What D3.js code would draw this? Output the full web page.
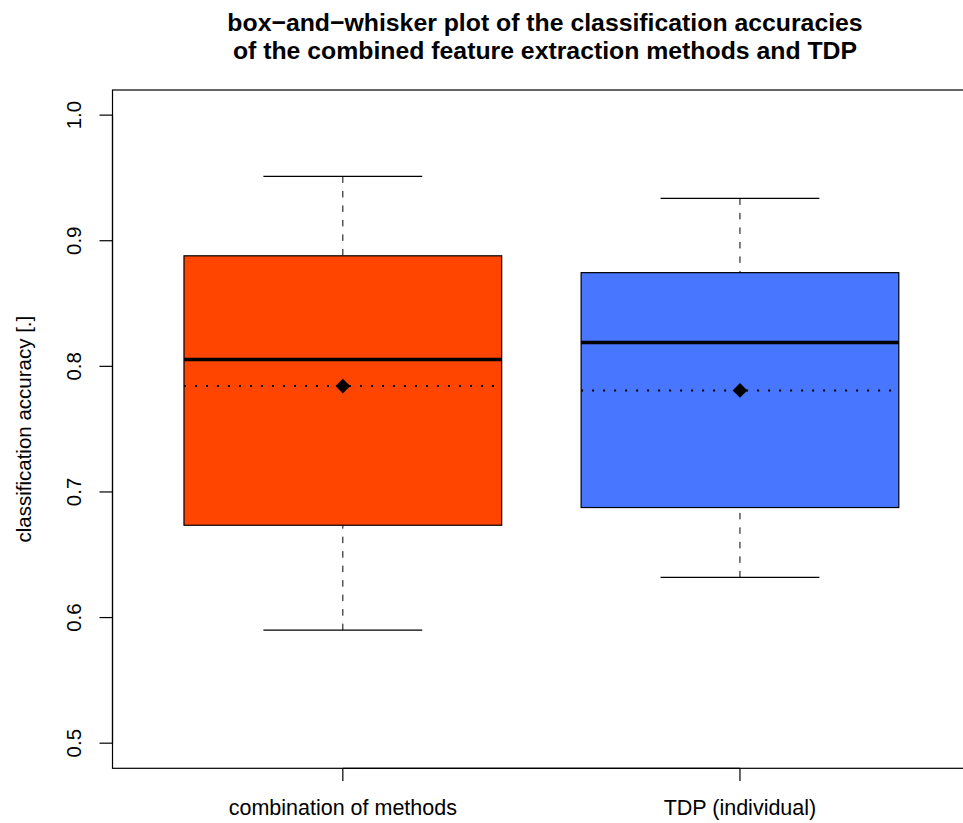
<!DOCTYPE html>
<html>
<head>
<meta charset="utf-8">
<script src="https://cdn.jsdelivr.net/npm/d3@7"></script>
<style>
  body { margin: 0; background: #fff; }
  text { font-family: "Liberation Sans", Arial, Helvetica, sans-serif; fill: #000; }
</style>
</head>
<body>
<div id="chart"></div>
<script>
// values
const groups = ["combination of methods", "TDP (individual)"];
const whiskerLow = [0.590, 0.632];
const q1 = [0.6735, 0.6876];
const medians = [0.8055, 0.819];
const q3 = [0.888, 0.8746];
const whiskerHigh = [0.9512, 0.9337];
const means = [0.7843, 0.7808];
const fills = ["#FF4500", "#4876FF"];
const yTicks = [0.5, 0.6, 0.7, 0.8, 0.9, 1.0];

const width = 963, height = 823;

const svg = d3.select("#chart")
    .append("svg")
    .attr("width", width)
    .attr("height", height);

// R style: xlim 0.5..2.5 extended 4%, ylim 0.5..1.0 extended 4%
const x = d3.scaleLinear().domain([0.42, 2.58]).range([112.5, 970.3]);
const y = d3.scaleLinear().domain([0.48, 1.02]).range([768.3, 90]);
const boxW = 0.8;

const data = groups.map((g, i) => ({
    name: g, pos: i + 1,
    lo: whiskerLow[i], q1: q1[i], med: medians[i], q3: q3[i], hi: whiskerHigh[i],
    mean: means[i], fill: fills[i]
}));

// plot frame (right edge falls outside the picture)
svg.append("rect")
    .attr("x", x(0.42))
    .attr("y", y(1.02))
    .attr("width", x(2.58) - x(0.42))
    .attr("height", y(0.48) - y(1.02))
    .attr("fill", "none")
    .attr("stroke", "#000")
    .attr("stroke-width", 1.2);

const box = svg.selectAll(".box")
    .data(data)
    .enter()
    .append("g")
    .attr("class", "box");

// whiskers, drawn from the extreme to the hinge
box.append("line")
    .attr("x1", d => x(d.pos)).attr("x2", d => x(d.pos))
    .attr("y1", d => y(d.hi)).attr("y2", d => y(d.q3))
    .attr("stroke", "#000").attr("stroke-dasharray", "6.5,8");
box.append("line")
    .attr("x1", d => x(d.pos)).attr("x2", d => x(d.pos))
    .attr("y1", d => y(d.lo)).attr("y2", d => y(d.q1))
    .attr("stroke", "#000").attr("stroke-dasharray", "6.5,8");

// caps
[d => d.hi, d => d.lo].forEach(f => {
    box.append("line")
        .attr("x1", d => x(d.pos - boxW / 4)).attr("x2", d => x(d.pos + boxW / 4))
        .attr("y1", d => y(f(d))).attr("y2", d => y(f(d)))
        .attr("stroke", "#000").attr("stroke-width", 1.2);
});

// boxes
box.append("rect")
    .attr("x", d => x(d.pos - boxW / 2))
    .attr("y", d => y(d.q3))
    .attr("width", x(1 + boxW / 2) - x(1 - boxW / 2))
    .attr("height", d => y(d.q1) - y(d.q3))
    .attr("fill", d => d.fill)
    .attr("stroke", "#000")
    .attr("stroke-width", 1.2);

// medians
box.append("line")
    .attr("x1", d => x(d.pos - boxW / 2)).attr("x2", d => x(d.pos + boxW / 2))
    .attr("y1", d => y(d.med)).attr("y2", d => y(d.med))
    .attr("stroke", "#000").attr("stroke-width", 3.6);

// mean, dotted line + diamond
box.append("line")
    .attr("x1", d => x(d.pos - boxW / 2)).attr("x2", d => x(d.pos + boxW / 2))
    .attr("y1", d => y(d.mean)).attr("y2", d => y(d.mean))
    .attr("stroke", "#000").attr("stroke-width", 2)
    .attr("stroke-dasharray", "2,9");

box.append("path")
    .attr("d", d3.symbol(d3.symbolSquare, 108))
    .attr("transform", d => `translate(${x(d.pos)},${y(d.mean)}) rotate(45)`)
    .attr("fill", "#000");

// y axis
const yAxis = svg.append("g").attr("class", "y-axis");
yAxis.append("line")
    .attr("x1", 112.5).attr("x2", 112.5)
    .attr("y1", y(yTicks[0])).attr("y2", y(yTicks[yTicks.length - 1]))
    .attr("stroke", "#000").attr("stroke-width", 1.2);
yAxis.selectAll(".tick")
    .data(yTicks)
    .enter()
    .append("line")
    .attr("x1", 99.5).attr("x2", 112.5)
    .attr("y1", d => y(d)).attr("y2", d => y(d))
    .attr("stroke", "#000").attr("stroke-width", 1.2);
yAxis.selectAll(".lbl")
    .data(yTicks)
    .enter()
    .append("text")
    .attr("transform", d => `translate(81,${y(d)}) rotate(-90)`)
    .attr("text-anchor", "middle")
    .style("font-size", "20.5px")
    .text(d => d3.format(".1f")(d));

// x axis
const xAxis = svg.append("g").attr("class", "x-axis");
xAxis.append("line")
    .attr("x1", x(1)).attr("x2", x(2))
    .attr("y1", 768.3).attr("y2", 768.3)
    .attr("stroke", "#000").attr("stroke-width", 1.2);
xAxis.selectAll(".tick")
    .data(data)
    .enter()
    .append("line")
    .attr("x1", d => x(d.pos)).attr("x2", d => x(d.pos))
    .attr("y1", 768.3).attr("y2", 781)
    .attr("stroke", "#000").attr("stroke-width", 1.2);
xAxis.selectAll(".lbl")
    .data(data)
    .enter()
    .append("text")
    .attr("x", d => x(d.pos))
    .attr("y", 815)
    .attr("text-anchor", "middle")
    .style("font-size", "21.5px")
    .text(d => d.name);

// axis title
svg.append("text")
    .attr("transform", `translate(31,${(y(0.48) + y(1.02)) / 2}) rotate(-90)`)
    .attr("text-anchor", "middle")
    .style("font-size", "20.5px")
    .text("classification accuracy [.]");

// main title
const titleLines = ["box\u2212and\u2212whisker plot of the classification accuracies",
    "of the combined feature extraction methods and TDP"];
svg.selectAll(".title")
    .data(titleLines)
    .enter()
    .append("text")
    .attr("class", "title")
    .attr("x", 545)
    .attr("y", (d, i) => 31 + i * 28)
    .attr("text-anchor", "middle")
    .style("font-size", "24.8px")
    .style("font-weight", "bold")
    .text(d => d);
</script>
</body>
</html>
